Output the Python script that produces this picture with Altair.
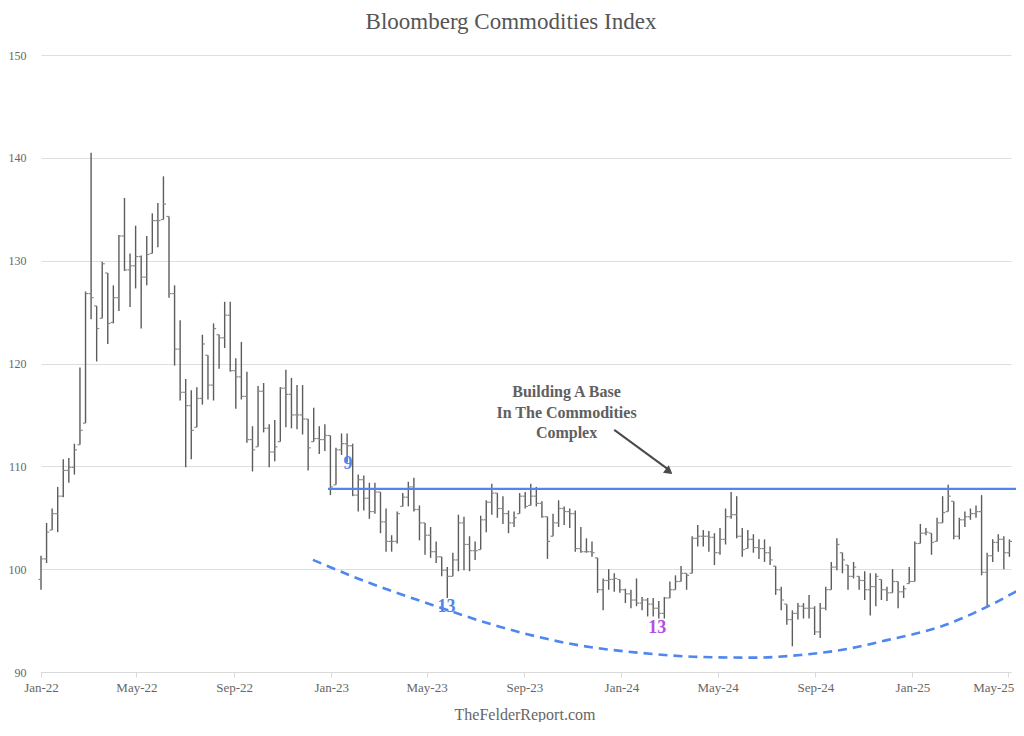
import altair as alt
import pandas as pd

# ---------------- data ----------------
first_week = "2022-01-01"

highs = [101.3, 104.5, 105.9, 108.0, 110.7, 110.8, 112.2, 119.6, 127.0, 140.5,
         125.6, 129.9, 128.8, 127.6, 132.5, 136.1, 130.7, 133.4, 130.5, 132.4,
         134.6, 135.6, 138.2, 134.3, 127.6, 124.2, 118.5, 117.4, 117.7, 122.8,
         120.8, 123.9, 122.8, 126.0, 126.0, 120.5, 122.1, 119.2, 113.9, 117.8,
         118.1, 114.1, 114.5, 117.7, 119.4, 118.6, 117.9, 117.9, 114.6, 115.7,
         113.9, 114.1, 113.0, 111.8, 113.2, 113.2, 112.2, 109.2, 109.1, 108.4,
         108.4, 107.5, 105.9, 103.3, 105.6, 107.4, 108.5, 108.9, 106.2, 104.5,
         104.1, 102.7, 101.2, 100.2, 101.6, 105.3, 105.1, 103.2, 102.7, 105.2,
         106.7, 108.3, 107.4, 107.1, 105.7, 105.6, 107.4, 107.5, 108.3, 108.0,
         106.6, 105.1, 105.4, 106.7, 106.1, 105.9, 105.7, 104.1, 103.0, 102.7,
         101.1, 99.1, 100.0, 99.6, 99.0, 98.1, 98.0, 99.1, 97.3, 97.2,
         97.2, 96.9, 97.3, 98.8, 99.4, 100.3, 99.6, 103.2, 104.3, 103.8,
         103.7, 103.5, 104.0, 105.9, 107.5, 107.1, 104.0, 103.8, 103.4, 102.9,
         102.9, 102.2, 100.3, 98.3, 96.6, 96.0, 96.7, 96.7, 97.5, 96.4,
         96.7, 98.3, 100.7, 103.0, 101.6, 100.4, 100.7, 99.3, 99.8, 99.6,
         99.6, 99.0, 98.3, 100.0, 98.8, 98.4, 100.2, 102.7, 104.4, 104.0,
         103.5, 105.0, 107.1, 108.2, 106.6, 105.0, 105.6, 105.9, 106.2, 107.2,
         101.6, 102.9, 103.4, 103.2, 102.9]

lows = [98.0, 100.6, 103.8, 103.6, 107.0, 108.4, 109.2, 112.1, 114.2, 124.3,
        120.2, 124.4, 121.9, 123.9, 125.1, 129.0, 125.5, 127.3, 123.4, 127.6,
        130.7, 131.3, 134.0, 126.4, 119.8, 116.4, 109.9, 110.7, 113.8, 116.0,
        116.5, 116.4, 119.5, 121.5, 119.2, 115.6, 116.5, 112.3, 109.5, 111.9,
        113.3, 109.9, 110.5, 112.4, 113.8, 113.7, 113.6, 113.1, 109.6, 112.4,
        111.2, 111.5, 107.2, 108.2, 111.1, 110.4, 107.1, 105.6, 105.7, 104.9,
        105.4, 103.5, 101.7, 101.7, 102.5, 106.1, 106.1, 105.6, 102.8, 101.4,
        101.1, 100.6, 99.3, 97.2, 99.3, 99.8, 99.9, 99.8, 100.9, 101.9,
        103.6, 105.3, 105.0, 104.4, 103.5, 104.1, 105.4, 105.9, 106.2, 106.1,
        105.0, 101.0, 103.2, 104.1, 104.3, 104.0, 101.7, 101.6, 101.6, 101.2,
        97.7, 96.0, 98.0, 97.8, 97.7, 96.7, 96.2, 96.4, 96.0, 95.4,
        95.4, 95.2, 95.2, 97.2, 98.0, 98.8, 98.0, 99.6, 102.2, 102.2,
        101.7, 100.4, 101.4, 102.4, 104.9, 103.0, 101.2, 102.0, 101.6, 101.0,
        100.7, 100.4, 97.5, 96.0, 94.6, 92.5, 95.1, 95.2, 95.2, 93.6,
        93.3, 96.0, 98.0, 99.9, 99.6, 98.0, 99.1, 98.0, 97.0, 95.5,
        96.4, 97.0, 96.9, 97.7, 96.2, 97.2, 98.6, 98.8, 102.5, 103.3,
        101.4, 102.7, 104.5, 105.6, 102.9, 102.9, 104.1, 104.8, 105.0, 99.4,
        96.4, 100.7, 101.7, 100.0, 101.2]

opens = [99.0, 101.0, 103.8, 105.4, 107.1, 109.6, 109.9, 112.1, 114.2, 126.8,
         125.6, 124.4, 128.8, 124.0, 126.4, 132.4, 129.1, 129.5, 130.4, 128.4,
         130.7, 133.9, 134.0, 134.3, 126.8, 121.4, 117.2, 115.9, 113.8, 116.6,
         120.8, 117.9, 122.8, 122.5, 124.7, 119.3, 118.7, 116.8, 112.6, 111.9,
         117.3, 113.7, 111.4, 112.4, 117.6, 117.0, 115.0, 115.0, 114.6, 112.4,
         112.7, 112.6, 113.0, 108.2, 111.6, 112.2, 112.0, 107.2, 108.7, 106.9,
         105.6, 107.5, 104.6, 102.7, 102.7, 106.1, 107.0, 108.0, 105.8, 104.5,
         103.3, 101.7, 101.2, 99.9, 99.3, 100.9, 104.5, 102.4, 101.8, 101.9,
         104.8, 106.5, 107.4, 105.9, 105.4, 104.5, 105.4, 107.1, 106.2, 107.1,
         106.4, 105.1, 103.2, 104.5, 105.9, 105.6, 105.4, 102.0, 101.7, 101.7,
         101.1, 98.0, 98.9, 99.0, 99.0, 98.0, 97.6, 97.0, 96.7, 97.0,
         96.6, 96.2, 95.7, 97.2, 98.0, 98.8, 99.6, 99.6, 103.0, 103.2,
         103.2, 103.1, 101.6, 102.9, 105.1, 105.3, 103.2, 102.0, 102.9, 102.1,
         102.0, 101.6, 100.3, 98.0, 96.6, 95.1, 95.7, 96.4, 96.2, 96.2,
         93.9, 96.2, 98.0, 100.2, 101.6, 100.4, 99.3, 99.3, 98.9, 98.0,
         98.3, 99.0, 98.0, 97.7, 98.8, 97.8, 98.6, 98.8, 102.5, 103.5,
         103.5, 102.7, 104.5, 105.6, 106.6, 103.2, 104.8, 105.1, 105.4, 105.6,
         99.7, 101.3, 102.6, 102.9, 101.6]

closes = [101.0, 103.6, 105.4, 107.1, 109.6, 109.9, 111.6, 113.5, 126.8, 126.4,
          123.4, 129.7, 123.9, 126.4, 132.4, 129.1, 129.5, 130.4, 128.4, 130.6,
          133.9, 133.9, 135.5, 126.8, 121.4, 117.2, 115.9, 113.5, 116.6, 121.9,
          117.9, 123.4, 122.5, 124.7, 119.3, 118.7, 116.8, 112.6, 111.6, 117.3,
          113.7, 111.4, 111.9, 117.6, 117.0, 115.0, 115.0, 114.6, 111.8, 112.7,
          112.6, 113.0, 108.0, 111.6, 112.2, 112.0, 107.2, 108.7, 106.9, 105.6,
          107.5, 104.6, 102.7, 102.7, 105.4, 107.0, 108.0, 105.8, 104.5, 103.3,
          101.7, 101.2, 99.9, 99.3, 100.9, 104.5, 102.4, 101.8, 101.8, 104.8,
          106.5, 107.4, 105.9, 105.4, 104.5, 105.0, 107.1, 106.1, 107.1, 106.4,
          105.1, 102.7, 104.5, 105.9, 105.6, 105.4, 102.0, 101.7, 101.7, 101.6,
          98.0, 98.9, 99.0, 99.1, 98.0, 97.6, 97.0, 96.7, 97.0, 96.6,
          96.2, 95.7, 97.2, 98.0, 98.8, 99.6, 99.4, 103.0, 103.2, 103.2,
          103.1, 101.6, 102.9, 105.1, 105.3, 103.2, 101.9, 102.9, 102.1, 102.0,
          101.6, 100.9, 98.0, 97.0, 95.1, 95.7, 96.4, 96.2, 96.2, 93.9,
          96.2, 98.0, 100.2, 102.4, 100.9, 99.3, 100.2, 98.9, 98.0, 98.3,
          99.3, 98.0, 97.7, 98.8, 97.8, 98.1, 98.8, 102.5, 103.5, 103.6,
          102.6, 104.5, 105.5, 107.1, 103.2, 104.8, 105.1, 105.4, 105.6, 99.7,
          101.3, 102.6, 102.9, 101.6, 102.7]

# resistance line ("base")
base_dates = ["2022-12-28", "2025-05-25"]
base_level = [107.8, 107.8]

# dashed support curve
curve_dates = ["2022-12-09", "2023-02-15", "2023-05-09", "2023-08-01", "2023-10-25",
               "2024-02-10", "2024-04-09", "2024-06-15", "2024-08-13", "2024-10-15",
               "2024-11-30", "2025-02-05", "2025-04-09", "2025-05-20"]
curve_values = [100.9, 98.75, 96.5, 94.4, 92.8, 91.75, 91.46, 91.4, 91.65, 92.3,
                93.1, 94.4, 96.5, 98.2]

# annotation text block
note_lines = ["Building A Base", "In The Commodities", "Complex"]
note_date = "2023-10-24"
note_values = [117.27, 115.22, 113.22]

# arrow
arrow_dates = ["2023-12-23", "2024-02-28"]
arrow_values = [113.54, 109.75]
arrow_head_date = "2024-03-01"
arrow_head_value = 109.5

# count labels
count_text = ["9", "13", "13"]
count_dates = ["2023-01-22", "2023-05-26", "2024-02-15"]
count_values = [110.23, 96.35, 94.25]
count_colors = ["#4f86ec", "#4f86ec", "#b04fe2"]

tick_months = [(2022, 1), (2022, 5), (2022, 9), (2023, 1), (2023, 5), (2023, 9),
               (2024, 1), (2024, 5), (2024, 9), (2025, 1), (2025, 5)]
y_ticks = [90, 100, 110, 120, 130, 140, 150]

# ---------------- build tables ----------------
dates = pd.date_range(first_week, periods=len(highs), freq="7D").strftime("%Y-%m-%dT00:00:00")
ohlc = pd.DataFrame({"date": dates, "open": opens, "high": highs, "low": lows, "close": closes})

base_df = pd.DataFrame({"date": [d + "T00:00:00" for d in base_dates], "value": base_level})
curve_df = pd.DataFrame({"date": [d + "T00:00:00" for d in curve_dates], "value": curve_values})
note_df = pd.DataFrame({"date": [note_date + "T00:00:00"] * 3, "value": note_values, "text": note_lines})
arrow_df = pd.DataFrame({"date": [d + "T00:00:00" for d in arrow_dates], "value": arrow_values})
head_df = pd.DataFrame({"date": [arrow_head_date + "T00:00:00"], "value": [arrow_head_value]})
count_df = pd.DataFrame({"date": [d + "T00:00:00" for d in count_dates], "value": count_values,
                         "text": count_text, "color": count_colors})

SERIF = "Liberation Serif"
x_scale = alt.Scale(domain=[alt.DateTime(year=2022, month=1, date=1),
                            alt.DateTime(year=2025, month=5, date=5)])
y_scale = alt.Scale(domain=[90, 150], nice=False, zero=False)

x_axis = alt.Axis(values=[alt.DateTime(year=y, month=m, date=1) for y, m in tick_months],
                  format="%b-%y", grid=False, domain=True, domainColor="#d9d9d9",
                  tickColor="#d9d9d9", tickSize=5, labelPadding=4, labelFont=SERIF,
                  labelFontSize=13, labelColor="#666666", labelFlush=False,
                  labelOverlap=False, title=None,
                  labelAlign=alt.ExprRef("datum.index > 0.99 ? 'right' : 'center'"),
                  labelOffset=alt.ExprRef("datum.index > 0.99 ? 6 : 0"))
y_axis = alt.Axis(values=y_ticks, grid=True, gridColor="#dedede",
                  domain=False, ticks=False, labelPadding=15, labelFont=SERIF,
                  labelFontSize=12, labelColor="#666666", title=None)


def X(field="date:T"):
    return alt.X(field, scale=x_scale, axis=x_axis, title=None)


def Y(field):
    return alt.Y(field, scale=y_scale, axis=y_axis, title=None)


bars = alt.Chart(ohlc).mark_rule(color="#5c5c5c", strokeWidth=1.4).encode(
    x=X(), y=Y("low:Q"), y2="high:Q")
open_ticks = alt.Chart(ohlc).mark_rule(color="#8a8a8a", strokeWidth=1.2, xOffset=-2.6, x2Offset=0).encode(
    x=X(), x2="date:T", y=Y("open:Q"))
close_ticks = alt.Chart(ohlc).mark_rule(color="#8a8a8a", strokeWidth=1.2, xOffset=0, x2Offset=2.6).encode(
    x=X(), x2="date:T", y=Y("close:Q"))

base_line = alt.Chart(base_df).mark_line(color="#4f86ec", strokeWidth=2.2).encode(
    x=X(), y=Y("value:Q"))
curve = alt.Chart(curve_df).mark_line(color="#4f86ef", strokeWidth=2.6, strokeDash=[9, 6],
                                      interpolate="monotone").encode(x=X(), y=Y("value:Q"))

note = alt.Chart(note_df).mark_text(font=SERIF, fontSize=16, fontWeight="bold", color="#606060",
                                    align="center", baseline="middle").encode(
    x=X(), y=Y("value:Q"), text="text:N")
arrow = alt.Chart(arrow_df).mark_line(color="#4a4a4a", strokeWidth=2).encode(x=X(), y=Y("value:Q"))
head = alt.Chart(head_df).mark_point(shape="triangle-up", angle=128, filled=True, size=90,
                                     color="#4a4a4a", opacity=1).encode(x=X(), y=Y("value:Q"))

counts = alt.Chart(count_df).mark_text(font=SERIF, fontSize=18, fontWeight="bold",
                                       align="center", baseline="middle").encode(
    x=X(), y=Y("value:Q"), text="text:N", color=alt.Color("color:N", scale=None))

footer = alt.Chart(pd.DataFrame({"t": ["TheFelderReport.com"]})).mark_text(
    font=SERIF, fontSize=16, color="#666666", align="center", baseline="middle").encode(
    x=alt.value(484), y=alt.value(660), text="t:N")

chart = alt.layer(bars, open_ticks, close_ticks, base_line, curve, note, arrow, head, counts, footer).properties(
    width=970, height=617,
    autosize=alt.AutoSizeParams(type="none"),
    padding={"left": 33, "top": 47, "right": 5, "bottom": 50},
    background="white",
    title=alt.TitleParams("Bloomberg Commodities Index", font=SERIF, fontSize=23,
                          fontWeight="normal", color="#555555", anchor="middle",
                          frame="group", dx=-15, offset=15),
).configure_view(stroke=None, strokeWidth=0)

chart.save("out.html", embed_options={"renderer": "svg", "actions": False})
